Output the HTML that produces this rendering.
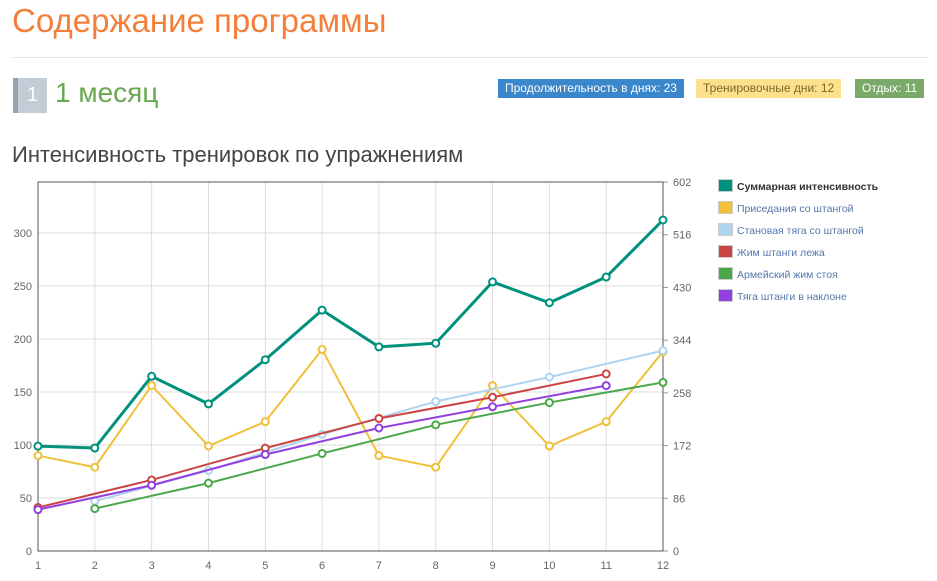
<!DOCTYPE html>
<html><head><meta charset="utf-8"><style>
body{margin:0;width:937px;height:581px;background:#fff;font-family:"Liberation Sans","DejaVu Sans",sans-serif;overflow:hidden;position:relative}
.abs{position:absolute}
.badge{position:absolute;top:79px;height:19px;line-height:19px;font-size:12px;padding:0 7px;white-space:nowrap}
</style></head><body>
<div class="abs" style="left:12px;top:2px;font-size:33px;color:#f47f3b">Содержание программы</div>
<div class="abs" style="left:12px;top:57px;width:915px;border-top:1px dotted #ccc"></div>
<div class="abs" style="left:13px;top:78px;width:34px;height:35px;background:#c4ccd6;border-left:5px solid #95a3b1;box-sizing:border-box;color:#fff;font-size:20px;text-align:center;line-height:35px">1</div>
<div class="abs" style="left:55px;top:77px;font-size:28px;color:#6aa84f">1 месяц</div>
<div class="badge" style="left:498px;background:#3b87cb;color:#fff">Продолжительность в днях: 23</div>
<div class="badge" style="left:696px;background:#fde08b;color:#7a6a2a">Тренировочные дни: 12</div>
<div class="badge" style="left:855px;background:#79aa6a;color:#fff">Отдых: 11</div>
<div class="abs" style="left:12px;top:142px;font-size:22px;color:#444">Интенсивность тренировок по упражнениям</div>
<svg class="abs" style="left:0;top:0" width="937" height="581" id="chart"></svg>
<script>
const categories=[1,2,3,4,5,6,7,8,9,10,11,12];
const leftTicks=[0,50,100,150,200,250,300];
const rightTicks=[0,86,172,258,344,430,516,602];
const seriesNames=["Суммарная интенсивность","Приседания со штангой","Становая тяга со штангой","Жим штанги лежа","Армейский жим стоя","Тяга штанги в наклоне"];
const seriesColors=["#00917c","#f0c03a","#aed4f0","#cc4444","#4aa84a","#9340e0"];
const sumValues=[171,168,285,240,312,393,333,339,439,405,447,540];
const squatValues=[90,79,156,99,122,190,90,79,156,99,122,188];
const deadliftValues=[null,47,null,76,null,110,null,141,null,164,null,189];
const benchValues=[41,null,67,null,97,null,125,null,145,null,167,null];
const militaryValues=[null,40,null,64,null,92,null,119,null,140,null,159];
const rowValues=[39,null,62,null,91,null,116,null,136,null,156,null];
const X0=38,X1=663,Y0=551,YT=182,LMAX=348,RMAX=602;
const xs=i=>X0+(X1-X0)*i/(categories.length-1);
const yl=v=>Y0-(Y0-YT)*v/LMAX;
const yr=v=>Y0-(Y0-YT)*v/RMAX;
const svg=document.getElementById('chart');const NS="http://www.w3.org/2000/svg";
function mk(t,a,p){const e=document.createElementNS(NS,t);for(const k in a)e.setAttribute(k,a[k]);(p||svg).appendChild(e);return e;}
categories.forEach((c,i)=>{
 const g=mk('line',{x1:xs(i),x2:xs(i),y1:YT,y2:Y0,stroke:'#ddd'});
 
 
 const t=mk('text',{x:xs(i),y:Y0+18,'text-anchor':'middle','font-size':11,fill:'#666'});t.textContent=c;
 
 
});
leftTicks.forEach(v=>{
 const g=mk('line',{x1:X0,x2:X1,y1:yl(v),y2:yl(v),stroke:'#ddd'});
 
 
 const t=mk('text',{x:X0-6,y:yl(v)+4,'text-anchor':'end','font-size':11,fill:'#666'});t.textContent=v;
 
 
});
rightTicks.forEach(v=>{
 const t=mk('text',{x:X1+10,y:yr(v)+4,'font-size':11,fill:'#666'});t.textContent=v;
 
 
 mk('line',{x1:X1,x2:X1+5,y1:yr(v),y2:yr(v),stroke:'#999'});
});
mk('rect',{x:X0,y:YT,width:X1-X0,height:Y0-YT,fill:'none',stroke:'#555'});
const all=[[squatValues,1,yl],[deadliftValues,2,yl],[benchValues,3,yl],[militaryValues,4,yl],[rowValues,5,yl],[sumValues,0,yr]];
all.forEach(([vals,ci,ys])=>{
 const pts=[];vals.forEach((v,i)=>{if(v!==null)pts.push([xs(i),ys(v)]);});
 const l=mk('polyline',{points:pts.map(p=>p.join(',')).join(' '),fill:'none',stroke:seriesColors[ci],'stroke-width':ci==0?3:2});
 
 
 pts.forEach(p=>{const c=mk('circle',{cx:p[0],cy:p[1],r:3.5,fill:'#fff',stroke:seriesColors[ci],'stroke-width':2});
 
 });
});
seriesNames.forEach((n,i)=>{
 const y=184+i*22;
 const r=mk('rect',{x:718.5,y:y-4.5,width:14,height:12,fill:seriesColors[i],stroke:'#ccc'});
 
 
 const t=mk('text',{x:737,y:y+6,'font-size':10.5,fill:i==0?'#333':'#5577aa','font-weight':i==0?'bold':'normal'});t.textContent=n;
 
 
});
</script>
</body></html>
